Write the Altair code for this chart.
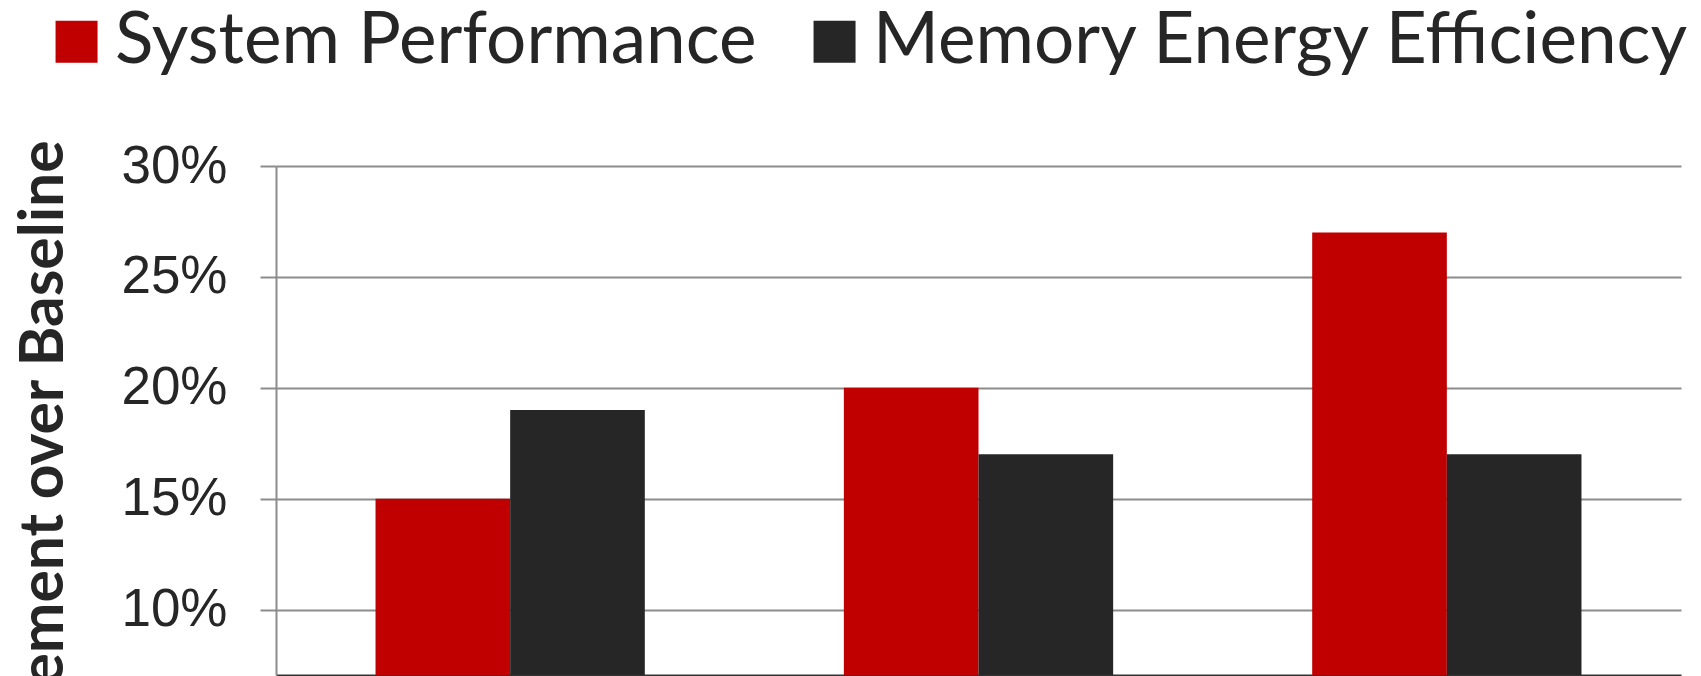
import altair as alt
import pandas as pd

# Bar groups (their labels sit below the visible plot area)
groups = ["Group 1", "Group 2", "Group 3"]
series = ["System Performance", "Memory Energy Efficiency"]
system_performance = [0.15, 0.20, 0.27]
memory_energy_efficiency = [0.19, 0.17, 0.17]
y_ticks = [0.10, 0.15, 0.20, 0.25, 0.30]
series_colors = ["#C00000", "#262626"]

rows = []
for g, sp, me in zip(groups, system_performance, memory_energy_efficiency):
    rows.append({"group": g, "series": series[0], "value": sp})
    rows.append({"group": g, "series": series[1], "value": me})
df = pd.DataFrame(rows)

grid_gray = "#8c8c8c"
text_dark = "#262626"

chart = (
    alt.Chart(df)
    .mark_bar(clip=True)
    .encode(
        x=alt.X(
            "group:N",
            sort=groups,
            scale=alt.Scale(paddingInner=0.425, paddingOuter=0.2125),
            axis=alt.Axis(
                labels=False, ticks=False, title=None, grid=False,
                domainColor="#333333", domainWidth=2,
            ),
        ),
        xOffset=alt.XOffset(
            "series:N", sort=series,
            scale=alt.Scale(paddingInner=0, paddingOuter=0),
        ),
        y=alt.Y(
            "value:Q",
            stack=None,
            scale=alt.Scale(domain=[0.0705, 0.30], nice=False, zero=False),
            axis=alt.Axis(
                values=y_ticks,
                format=".0%",
                title="Improvement over Baseline",
                titleFont="Lato",
                titleFontWeight="bold",
                titleFontSize=60.5,
                titleColor=text_dark,
                titleAngle=270,
                titleAlign="right",
                titleBaseline="alphabetic",
                titleX=-214,
                titleY=-26,
                labelFont="Liberation Sans",
                labelFontSize=53,
                labelColor=text_dark,
                labelPadding=33,
                tickSize=16,
                tickWidth=2,
                tickColor=grid_gray,
                domainColor=grid_gray,
                domainWidth=2,
                grid=True,
                gridColor=grid_gray,
                gridWidth=2,
            ),
        ),
        color=alt.Color(
            "series:N",
            sort=series,
            scale=alt.Scale(domain=series, range=series_colors),
            legend=alt.Legend(
                title=None,
                orient="none",
                legendX=-235,
                legendY=-160,
                direction="horizontal",
                symbolType="square",
                symbolSize=1764,
                symbolStrokeWidth=0,
                symbolOpacity=1,
                labelFont="Lato",
                labelFontSize=71.1,
                labelColor=text_dark,
                labelOffset=3,
                labelLimit=1000,
                columnPadding=42,
                padding=0,
            ),
        ),
    )
    .properties(
        width=1405,
        height=509,
        padding={"left": 276, "top": 166, "right": 20, "bottom": 1},
        autosize=alt.AutoSizeParams(type="none"),
    )
    .configure_view(stroke=None)
)

chart.save("out.html", embed_options={"renderer": "svg", "actions": False})
